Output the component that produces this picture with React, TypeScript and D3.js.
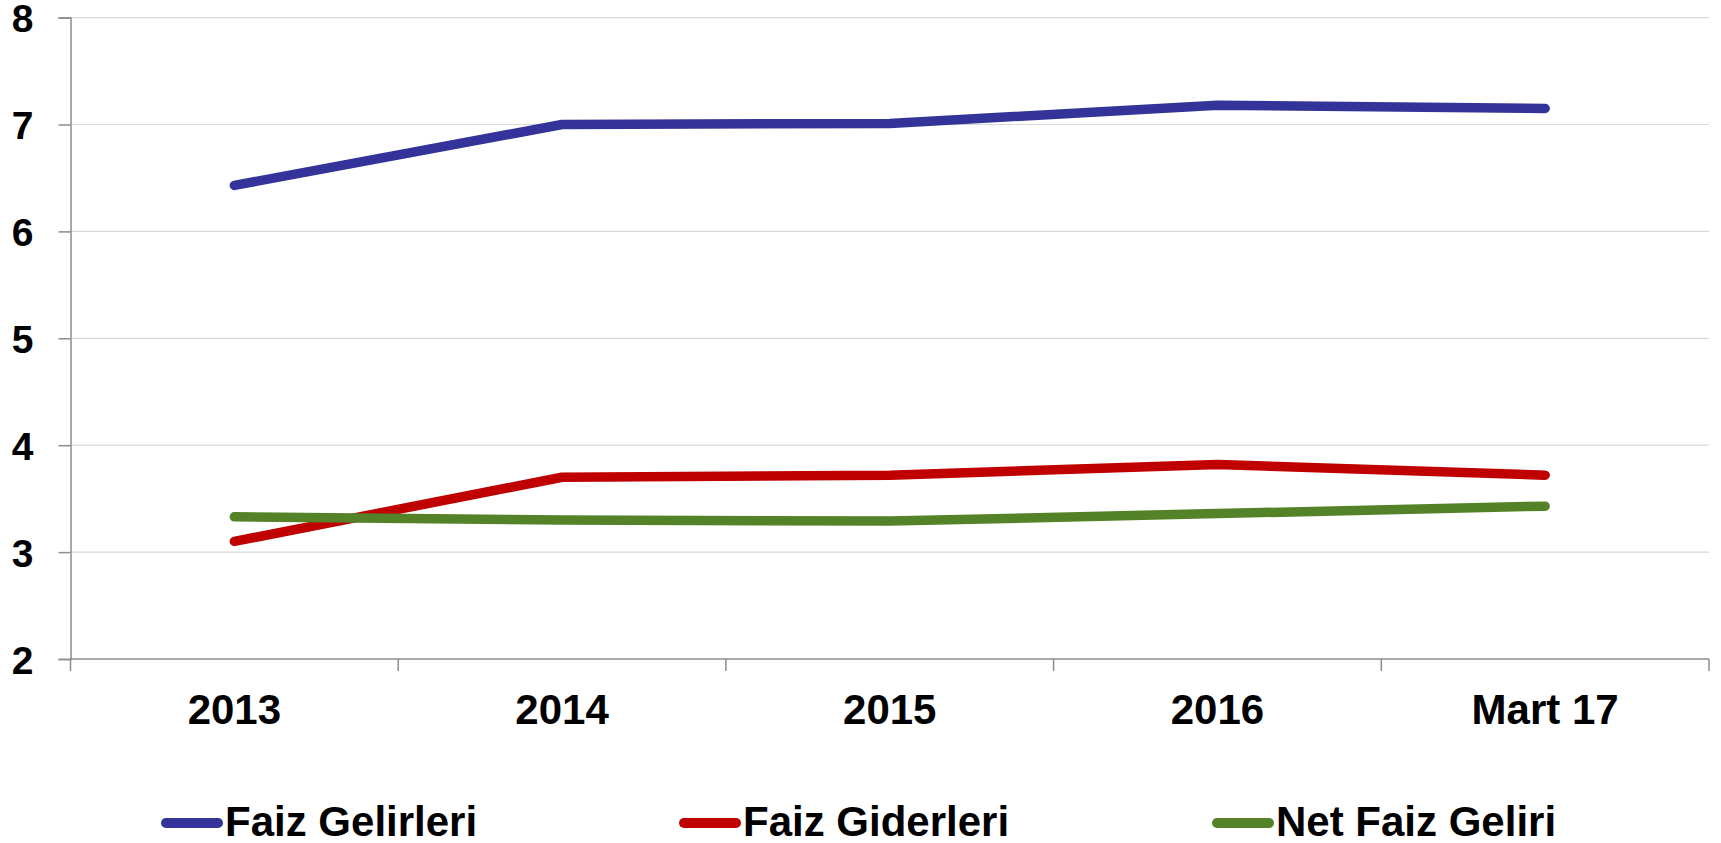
import React, { useEffect, useRef } from "react";
import * as d3 from "d3";

const categories = ["2013", "2014", "2015", "2016", "Mart 17"];
const faizGelirleri = [6.43, 7.0, 7.01, 7.18, 7.15];
const faizGiderleri = [3.1, 3.7, 3.72, 3.82, 3.72];
const netFaizGeliri = [3.33, 3.3, 3.29, 3.36, 3.43];
const yTicks = [2, 3, 4, 5, 6, 7, 8];

const seriesList = [
  { name: "Faiz Gelirleri", values: faizGelirleri, color: "#333399" },
  { name: "Faiz Giderleri", values: faizGiderleri, color: "#C00000" },
  { name: "Net Faiz Geliri", values: netFaizGeliri, color: "#548228" },
];

const App = () => {
  const ref = useRef<SVGSVGElement>(null);

  useEffect(() => {
    document.body.style.margin = "0";
    const width = 1721;
    const height = 843;
    const margin = { top: 17.6, right: 12, bottom: 184, left: 70.5 };

    const svg = d3.select(ref.current);
    svg.selectAll("*").remove();
    svg.attr("width", width).attr("height", height);

    const x = d3
      .scaleBand()
      .domain(categories)
      .range([margin.left, width - margin.right]);
    const y = d3
      .scaleLinear()
      .domain([2, 8])
      .range([height - margin.bottom, margin.top]);

    const font = "'Liberation Sans', Arial, sans-serif";
    const axisColor = "#8c8c8c";

    // grid lines
    svg
      .append("g")
      .selectAll("line")
      .data(yTicks.filter((t) => t !== 2))
      .enter()
      .append("line")
      .attr("x1", margin.left)
      .attr("x2", width - margin.right)
      .attr("y1", (d) => y(d))
      .attr("y2", (d) => y(d))
      .attr("stroke", "#d9d9d9")
      .attr("stroke-width", 1.2);

    // y axis
    const yAxis = svg
      .append("g")
      .attr("transform", `translate(${margin.left},0)`)
      .call(
        d3
          .axisLeft(y)
          .tickValues(yTicks)
          .tickFormat(d3.format("d"))
          .tickSize(12)
          .tickPadding(26)
      );
    yAxis.select(".domain").attr("stroke", axisColor).attr("stroke-width", 1.5);
    yAxis.selectAll(".tick line").attr("stroke", axisColor).attr("stroke-width", 1.5);
    yAxis
      .selectAll(".tick text")
      .attr("font-family", font)
      .attr("font-weight", "bold")
      .attr("font-size", 39)
      .attr("fill", "#000")
      .attr("x", -37)
      .attr("dy", "0.36em");

    // x axis
    const y0 = y(2);
    const xAxisG = svg.append("g");
    xAxisG
      .append("line")
      .attr("x1", margin.left)
      .attr("x2", width - margin.right)
      .attr("y1", y0)
      .attr("y2", y0)
      .attr("stroke", axisColor)
      .attr("stroke-width", 1.5);
    const bounds = categories.map((c) => x(c) as number).concat([width - margin.right]);
    xAxisG
      .selectAll("line.tick")
      .data(bounds)
      .enter()
      .append("line")
      .attr("class", "tick")
      .attr("x1", (d) => d)
      .attr("x2", (d) => d)
      .attr("y1", y0)
      .attr("y2", y0 + 12)
      .attr("stroke", axisColor)
      .attr("stroke-width", 1.5);
    xAxisG
      .selectAll("text")
      .data(categories)
      .enter()
      .append("text")
      .attr("x", (d) => (x(d) as number) + x.bandwidth() / 2)
      .attr("y", 724)
      .attr("text-anchor", "middle")
      .attr("font-family", font)
      .attr("font-weight", "bold")
      .attr("font-size", 42)
      .text((d) => d);

    // lines
    const line = d3
      .line<number>()
      .x((_, i) => (x(categories[i]) as number) + x.bandwidth() / 2)
      .y((d) => y(d));

    seriesList.forEach((s) => {
      svg
        .append("path")
        .datum(s.values)
        .attr("d", line)
        .attr("fill", "none")
        .attr("stroke", s.color)
        .attr("stroke-width", 9.5)
        .attr("stroke-linecap", "round")
        .attr("stroke-linejoin", "round");
    });

    // legend
    const legendX = [166, 684, 1217];
    const legend = svg
      .append("g")
      .selectAll("g")
      .data(seriesList)
      .enter()
      .append("g")
      .attr("transform", (_, i) => `translate(${legendX[i]},823)`);
    legend
      .append("line")
      .attr("x1", 0)
      .attr("x2", 52)
      .attr("y1", 0)
      .attr("y2", 0)
      .attr("stroke", (d) => d.color)
      .attr("stroke-width", 10)
      .attr("stroke-linecap", "round");
    legend
      .append("text")
      .attr("x", 59)
      .attr("y", 13)
      .attr("font-family", font)
      .attr("font-weight", "bold")
      .attr("font-size", 42)
      .text((d) => d.name);
  }, []);

  return <svg ref={ref} style={{ display: "block" }} />;
};

export default App;
